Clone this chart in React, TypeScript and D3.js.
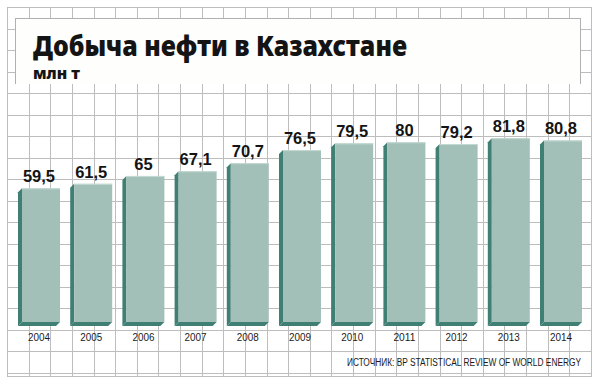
import React from "react";
import * as d3 from "d3";

const years = ["2004", "2005", "2006", "2007", "2008", "2009", "2010", "2011", "2012", "2013", "2014"];
const values = [59.5, 61.5, 65, 67.1, 70.7, 76.5, 79.5, 80, 79.2, 81.8, 80.8];
const valueLabels = ["59,5", "61,5", "65", "67,1", "70,7", "76,5", "79,5", "80", "79,2", "81,8", "80,8"];
const title = "Добыча нефти в Казахстане";
const subtitle = "млн т";
const source = "ИСТОЧНИК: BP STATISTICAL REVIEW OF WORLD ENERGY";

const W = 595;
const H = 381;

export default function App() {
  const x = d3
    .scaleBand<string>()
    .domain(years)
    .range([12.9, 587.1])
    .paddingInner(0.1954)
    .paddingOuter(0.0977);
  const y = d3.scaleLinear().domain([0, 100]).range([322, 97.3]);
  const depth = 4;

  const gx0 = 7, gx1 = 591, gy0 = 7, gy1 = 373;
  const nV = 27, nH = 17;
  const vLines = d3.range(nV + 1).map((i) => gx0 + ((gx1 - gx0) * i) / nV);
  const hLines = d3.range(nH + 1).map((i) => gy0 + ((gy1 - gy0) * i) / nH);
  const gridColor = "#bdbdbd";
  const front = "#a3c0b8";
  const dark = "#3f7f74";

  return (
    <svg width={W} height={H} style={{ position: "absolute", left: 0, top: 0, background: "#fff" }}>
      <rect x={0} y={0} width={W} height={H} fill="#fff" />
      <g shapeRendering="crispEdges">
        {vLines.map((vx, i) => (
          <line key={"v" + i} x1={Math.round(vx) + 0.5} x2={Math.round(vx) + 0.5} y1={gy0} y2={376.5} stroke={gridColor} strokeWidth={1} />
        ))}
        {hLines.map((hy, i) => (
          <line key={"h" + i} x1={gx0} x2={gx1 + 0.5} y1={Math.round(hy) + 0.5} y2={Math.round(hy) + 0.5} stroke={gridColor} strokeWidth={1} />
        ))}
        <line x1={gx0} x2={gx1 + 0.5} y1={376.5} y2={376.5} stroke={gridColor} strokeWidth={1} />
      </g>
      {/* title box */}
      <rect x={15} y={18} width={565} height={66} fill="#fefefc" />
      <path d="M15.5,84 V18.5 H580.5 V84" fill="none" stroke="#b0b0b0" strokeWidth={1} shapeRendering="crispEdges" />
      <text
        x={33}
        y={56}
        fontFamily="'Noto Sans', 'DejaVu Sans', sans-serif"
        fontWeight={900}
        fontSize={29}
        fill="#141414"
        textLength={374}
        lengthAdjust="spacingAndGlyphs"
      >
        {title}
      </text>
      <text
        x={33}
        y={79}
        fontFamily="'Noto Sans', 'DejaVu Sans', sans-serif"
        fontWeight={900}
        fontSize={15.5}
        fill="#141414"
        textLength={47}
        lengthAdjust="spacingAndGlyphs"
      >
        {subtitle}
      </text>
      {/* bars */}
      {years.map((yr, i) => {
        const bx = x(yr)!;
        const fx = bx + depth;
        const fw = x.bandwidth() - depth;
        const top = y(values[i]);
        const base = y(0);
        return (
          <g key={yr}>
            <path
              d={`M${bx},${top + depth} L${fx},${top} L${fx},${base} L${bx},${base + depth} Z`}
              fill={dark}
            />
            <path
              d={`M${bx},${base + depth} L${fx},${base} L${fx + fw},${base} L${fx + fw - depth},${base + depth} Z`}
              fill={dark}
            />
            <rect x={fx} y={top} width={fw} height={base - top} fill={front} />
            <line x1={fx} x2={fx + fw} y1={top + 0.5} y2={top + 0.5} stroke="#c4dad4" strokeWidth={1} />
            <text
              x={bx + x.bandwidth() / 2}
              y={top - 6}
              textAnchor="middle"
              fontFamily="'Liberation Sans', Arial, sans-serif"
              fontWeight="bold"
              fontSize={16.5}
              fill="#141414"
            >
              {valueLabels[i]}
            </text>
            <text
              x={bx + x.bandwidth() / 2}
              y={341}
              textAnchor="middle"
              fontFamily="'Liberation Sans', Arial, sans-serif"
              fontSize={11.5}
              fill="#1a1a1a"
              textLength={22}
              lengthAdjust="spacingAndGlyphs"
            >
              {yr}
            </text>
          </g>
        );
      })}
      <text
        transform="translate(581,366) scale(0.725,1)"
        textAnchor="end"
        fontFamily="'Liberation Sans', Arial, sans-serif"
        fontSize={11.5}
        fill="#1a1a1a"
      >
        {source}
      </text>
    </svg>
  );
}
